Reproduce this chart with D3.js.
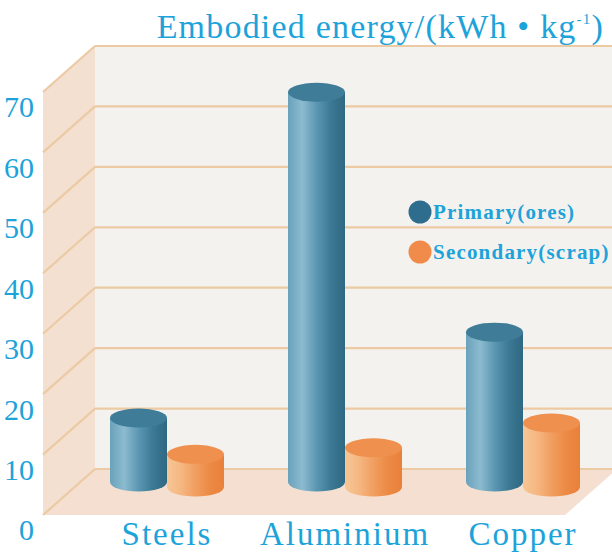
<!DOCTYPE html>
<html>
<head>
<meta charset="utf-8">
<script src="https://cdn.jsdelivr.net/npm/d3@7"></script>
<style>
  body { margin: 0; background: #fff; }
  svg text { font-family: "Liberation Serif", "Times New Roman", Times, "DejaVu Serif", serif; fill: #1da3da; }
</style>
</head>
<body>
<svg id="chart" width="612" height="552"></svg>
<script>
// données
const categories = ["Steels", "Aluminium", "Copper"];
const seriesNames = ["Primary(ores)", "Secondary(scrap)"];
const primary = [10.6, 64.5, 24.8];
const secondary = [5.4, 6.5, 10.6];
const yTicks = [0, 10, 20, 30, 40, 50, 60, 70];

const svg = d3.select("#chart");

// géométrie 3D : mur du fond, profondeur vers l'avant
const depthX = -52, depthY = 46;
const wallLeft = 95, wallRight = 617;
const yBack = d3.scaleLinear().domain([0, 70]).range([469, 46]);
const yFront = d3.scaleLinear().domain([0, 70]).range([469 + depthY, 46 + depthY]);

const x = d3.scaleBand().domain(categories).range([78, 612]);
const xInner = d3.scaleBand().domain(seriesNames).range([0, 114]);

const colors = {
  "Primary(ores)": { stops: ["#6aa2bb", "#8cbbcf", "#5b97b2", "#3c7994", "#2f6882"], top: "#3f7c98", dot: "#2e6d8e" },
  "Secondary(scrap)": { stops: ["#f6c696", "#f5b781", "#f19e60", "#ec8a45", "#e9803a"], top: "#ef904f", dot: "#f08b4a" }
};
const baseDepth = { "Primary(ores)": 13, "Secondary(scrap)": 18 };

const defs = svg.append("defs");
seriesNames.forEach((s, i) => {
  const g = defs.append("linearGradient").attr("id", "grad" + i).attr("x1", 0).attr("x2", 1).attr("y1", 0).attr("y2", 0);
  colors[s].stops.forEach((c, j) => g.append("stop").attr("offset", j / 4).attr("stop-color", c));
});

// mur latéral
svg.append("path")
  .attr("d", `M${wallLeft},${yBack(70)}L${wallLeft},${yBack(0)}L${wallLeft + depthX},${yFront(0)}L${wallLeft + depthX},${yFront(70)}Z`)
  .attr("fill", "#f3e0d1");

// mur du fond
svg.append("rect")
  .attr("x", wallLeft).attr("y", yBack(70))
  .attr("width", wallRight - wallLeft).attr("height", yBack(0) - yBack(70))
  .attr("fill", "#f4f2ee");

// sol
svg.append("path")
  .attr("d", `M${wallLeft},${yBack(0)}L${wallRight},${yBack(0)}L${wallRight + depthX},${yFront(0)}L${wallLeft + depthX},${yFront(0)}Z`)
  .attr("fill", "#f4dfd0");

// lignes de grille (fond + côté)
const grid = svg.append("g").attr("stroke", "#eccaa4").attr("stroke-width", 2.2).attr("fill", "none");
yTicks.forEach((t) => {
  grid.append("line").attr("x1", wallLeft).attr("x2", wallRight).attr("y1", yBack(t)).attr("y2", yBack(t));
  grid.append("line").attr("x1", wallLeft).attr("x2", wallLeft + depthX).attr("y1", yBack(t)).attr("y2", yFront(t));
});

// axe Y (étiquettes à l'avant)
const yAxis = svg.append("g")
  .attr("transform", "translate(36,0)")
  .call(d3.axisLeft(yFront).tickValues(yTicks).tickSize(0).tickPadding(2).tickFormat(d3.format("d")));
yAxis.select(".domain").remove();
yAxis.attr("font-family", null);
yAxis.selectAll("text")
  .attr("dy", "0.33em")
  .attr("y", 15)
  .attr("font-size", 30)
  .attr("fill", "#1da3da");

// cylindres
const rx = xInner.bandwidth() / 2, ry = 9.5;
const data = [];
categories.forEach((c, i) => {
  data.push({ cat: c, series: seriesNames[0], value: primary[i], gi: 0 });
  data.push({ cat: c, series: seriesNames[1], value: secondary[i], gi: 1 });
});

const bars = svg.selectAll(".bar").data(data).enter().append("g").attr("class", "bar");
bars.each(function (d) {
  const g = d3.select(this);
  const cx = x(d.cat) + x.bandwidth() / 2 - xInner.bandwidth() + xInner(d.series) + rx;
  const base = yBack(0) + baseDepth[d.series];
  const top = base - (yBack(0) - yBack(d.value));
  g.append("path")
    .attr("d", `M${cx - rx},${top}L${cx - rx},${base}A${rx},${ry} 0 0 0 ${cx + rx},${base}L${cx + rx},${top}Z`)
    .attr("fill", `url(#grad${d.gi})`);
  g.append("ellipse")
    .attr("cx", cx).attr("cy", top).attr("rx", rx).attr("ry", ry)
    .attr("fill", colors[d.series].top);
});

// étiquettes des catégories
svg.selectAll(".cat").data(categories).enter().append("text")
  .attr("class", "cat")
  .attr("x", (d) => x(d) + x.bandwidth() / 2)
  .attr("y", 545)
  .attr("text-anchor", "middle")
  .attr("font-size", 33)
  .attr("letter-spacing", 2)
  .text((d) => d);

// légende
const legend = svg.selectAll(".leg").data(seriesNames).enter().append("g")
  .attr("class", "leg")
  .attr("transform", (d, i) => `translate(420,${212 + i * 40})`);
legend.append("circle").attr("r", 11.5).attr("fill", (d) => colors[d].dot);
legend.append("text")
  .attr("x", 13).attr("dy", "0.35em")
  .attr("font-size", 21).attr("font-weight", "bold").attr("letter-spacing", 1.2)
  .text((d) => d);

// titre
const title = svg.append("text")
  .attr("x", 604).attr("y", 38)
  .attr("text-anchor", "end")
  .attr("font-size", 34)
  .attr("letter-spacing", 1.2);
title.append("tspan").text("Embodied energy/(kWh • kg");
title.append("tspan").attr("font-size", 15).attr("dy", -14).text("-1");
title.append("tspan").attr("dy", 14).text(")");
</script>
</body>
</html>
